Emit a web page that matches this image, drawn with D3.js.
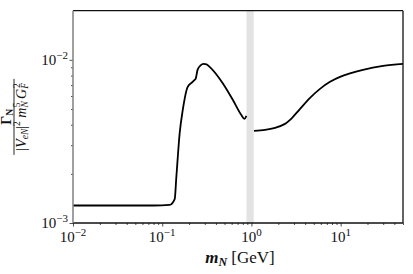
<!DOCTYPE html>
<html lang="en">
<head>
<meta charset="UTF-8">
<title>Decay width</title>
<script src="https://d3js.org/d3.v7.min.js"></script>
<style>
  body { margin: 0; padding: 0; background: white; }
  svg { display: block; font-family: 'Liberation Serif', 'DejaVu Serif', serif; }
  .tick-label { font-size: 15px; fill: #111; }
</style>
</head>
<body>
<svg width="413" height="274"></svg>
<script>
// curve below the gray band (GeV, dimensionless width)
const massLow  = [0.01, 0.03, 0.08, 0.121, 0.138, 0.144, 0.157, 0.170, 0.193, 0.219, 0.231, 0.237,
                  0.249, 0.269, 0.291, 0.314, 0.34, 0.477, 0.618, 0.767, 0.836, 0.879];
const widthLow = [1.28e-3, 1.28e-3, 1.28e-3, 1.29e-3, 1.40e-3, 1.91e-3, 3.56e-3, 4.93e-3, 6.83e-3, 7.32e-3, 7.54e-3, 7.64e-3,
                  8.68e-3, 9.25e-3, 9.45e-3, 9.38e-3, 9.06e-3, 7.19e-3, 5.69e-3, 4.61e-3, 4.35e-3, 4.53e-3];
// curve above the gray band
const massHigh  = [1.07, 1.42, 1.84, 2.38, 2.71, 3.51, 4.54, 5.87, 7.60, 9.84, 17.8, 29.9, 50];
const widthHigh = [3.67e-3, 3.72e-3, 3.83e-3, 4.05e-3, 4.28e-3, 5.01e-3, 5.85e-3, 6.64e-3, 7.33e-3, 7.87e-3, 8.69e-3, 9.19e-3, 9.45e-3];
// excluded mass window
const band = [0.88, 1.06];

const xMajor = [0.01, 0.1, 1, 10];
const xExp = ["\u22122", "\u22121", "0", "1"];
const yMajor = [1e-3, 1e-2];
const yExp = ["\u22123", "\u22122"];

const svg = d3.select("svg");
const margin = { top: 10.7, right: 10, bottom: 51, left: 73 };
const W = 413, H = 274;

const x = d3.scaleLog().domain([0.01, 50]).range([margin.left, W - margin.right]);
const y = d3.scaleLog().domain([1e-3, 2e-2]).range([H - margin.bottom, margin.top]);

// gray band
svg.append("rect")
  .attr("x", x(band[0]))
  .attr("y", margin.top)
  .attr("width", x(band[1]) - x(band[0]))
  .attr("height", y(1e-3) - margin.top)
  .attr("fill", "#e3e3e3");

const lineLow = d3.line()
  .x(d => x(d[0]))
  .y(d => y(d[1]))
  .curve(d3.curveMonotoneX);
const lineHigh = d3.line()
  .x(d => x(d[0]))
  .y(d => y(d[1]))
  .curve(d3.curveCatmullRom.alpha(0.5));

svg.append("path")
  .datum(d3.zip(massLow, widthLow))
  .attr("d", lineLow)
  .attr("fill", "none").attr("stroke", "#000").attr("stroke-width", 1.8);
svg.append("path")
  .datum(d3.zip(massHigh, widthHigh))
  .attr("d", lineHigh)
  .attr("fill", "none").attr("stroke", "#000").attr("stroke-width", 1.8);

// minor ticks
const xMinor = [];
[0.01, 0.1, 1, 10].forEach(function(dec) {
  for (let k = 2; k <= 9; k++) if (dec * k <= 50) xMinor.push(dec * k);
});
const yMinor = [];
for (let k = 2; k <= 9; k++) yMinor.push(1e-3 * k);

const xAxis = d3.axisBottom(x).tickValues(xMajor).tickSize(3.5).tickFormat("");
const xAxisMinor = d3.axisBottom(x).tickValues(xMinor).tickSize(2).tickFormat("");
const yAxis = d3.axisLeft(y).tickValues(yMajor).tickSize(3.5).tickFormat("");
const yAxisMinor = d3.axisLeft(y).tickValues(yMinor).tickSize(2).tickFormat("");

const gx = svg.append("g").attr("transform", `translate(0,${y(1e-3)})`);
gx.call(xAxis);
gx.append("g").call(xAxisMinor);
gx.selectAll("path.domain").remove();
gx.selectAll("line").attr("stroke", "#222").attr("stroke-width", 0.8);

const gy = svg.append("g").attr("transform", `translate(${margin.left},0)`);
gy.call(yAxis);
gy.append("g").call(yAxisMinor);
gy.selectAll("path.domain").remove();
gy.selectAll("line").attr("stroke", "#222").attr("stroke-width", 0.8);

// spines
const x0 = margin.left, x1 = W - margin.right, y0 = margin.top, y1 = y(1e-3);
svg.append("line").attr("x1", x0).attr("x2", x1).attr("y1", y0).attr("y2", y0).attr("stroke", "#111").attr("stroke-width", 1.3);
svg.append("line").attr("x1", x0).attr("x2", x1).attr("y1", y1).attr("y2", y1).attr("stroke", "#111").attr("stroke-width", 1.3);
svg.append("line").attr("x1", x1).attr("x2", x1).attr("y1", y0).attr("y2", y1).attr("stroke", "#111").attr("stroke-width", 1.3);
svg.append("line").attr("x1", x0).attr("x2", x0).attr("y1", y0).attr("y2", y1).attr("stroke", "#888").attr("stroke-width", 1.6);

// tick labels
xMajor.forEach(function(v, i) {
  const t = svg.append("text").attr("class", "tick-label")
    .attr("x", x(v)).attr("y", y1 + 19).attr("text-anchor", "middle");
  t.append("tspan").text("10");
  t.append("tspan").attr("dy", -6).attr("font-size", "11px").text(xExp[i]);
});
yMajor.forEach(function(v, i) {
  const t = svg.append("text").attr("class", "tick-label")
    .attr("x", x0 - 5).attr("y", y(v) + 5).attr("text-anchor", "end");
  t.append("tspan").text("10");
  t.append("tspan").attr("dy", -6).attr("font-size", "11px").text(yExp[i]);
});

// x label
const xl = svg.append("text").attr("x", 240).attr("y", 263).attr("text-anchor", "middle")
  .attr("font-size", "17px").attr("fill", "#111");
xl.append("tspan").attr("font-weight", "bold").attr("font-style", "italic").text("m");
xl.append("tspan").attr("font-weight", "bold").attr("font-style", "italic").attr("font-size", "12px").attr("dy", 3).text("N");
xl.append("tspan").attr("dy", -3).text(" [GeV]");

// y label as a fraction
const gl = svg.append("g").attr("transform", `translate(14,${(y0 + y1) / 2}) rotate(-90)`)
  .attr("fill", "#111");
const num = gl.append("text").attr("x", 0).attr("y", -3).attr("text-anchor", "middle").attr("font-size", "14px");
num.append("tspan").attr("font-weight", "bold").text("\u0393");
num.append("tspan").attr("font-weight", "bold").attr("font-size", "9.5px").attr("dy", 2).text("N");
gl.append("line").attr("x1", -38).attr("x2", 38).attr("y1", 0).attr("y2", 0)
  .attr("stroke", "#111").attr("stroke-width", 0.9);
const den = gl.append("text").attr("x", 0).attr("y", 12).attr("text-anchor", "middle").attr("font-size", "14px");
den.append("tspan").text("|");
den.append("tspan").attr("font-style", "italic").text("V");
den.append("tspan").attr("font-style", "italic").attr("font-size", "9.5px").attr("dy", 2).text("eN");
den.append("tspan").attr("dy", -2).text("|");
den.append("tspan").attr("font-size", "9.5px").attr("dy", -6).text("2");
den.append("tspan").attr("font-style", "italic").attr("dy", 6).text(" m");
den.append("tspan").attr("font-style", "italic").attr("font-size", "9.5px").attr("dy", 2).text("N");
den.append("tspan").attr("font-size", "9.5px").attr("dx", -6).attr("dy", -8).text("5");
den.append("tspan").attr("font-style", "italic").attr("dy", 6).text(" G");
den.append("tspan").attr("font-style", "italic").attr("font-size", "9.5px").attr("dy", 2).text("F");
den.append("tspan").attr("font-size", "9.5px").attr("dx", -5).attr("dy", -8).text("2");
</script>
</body>
</html>
